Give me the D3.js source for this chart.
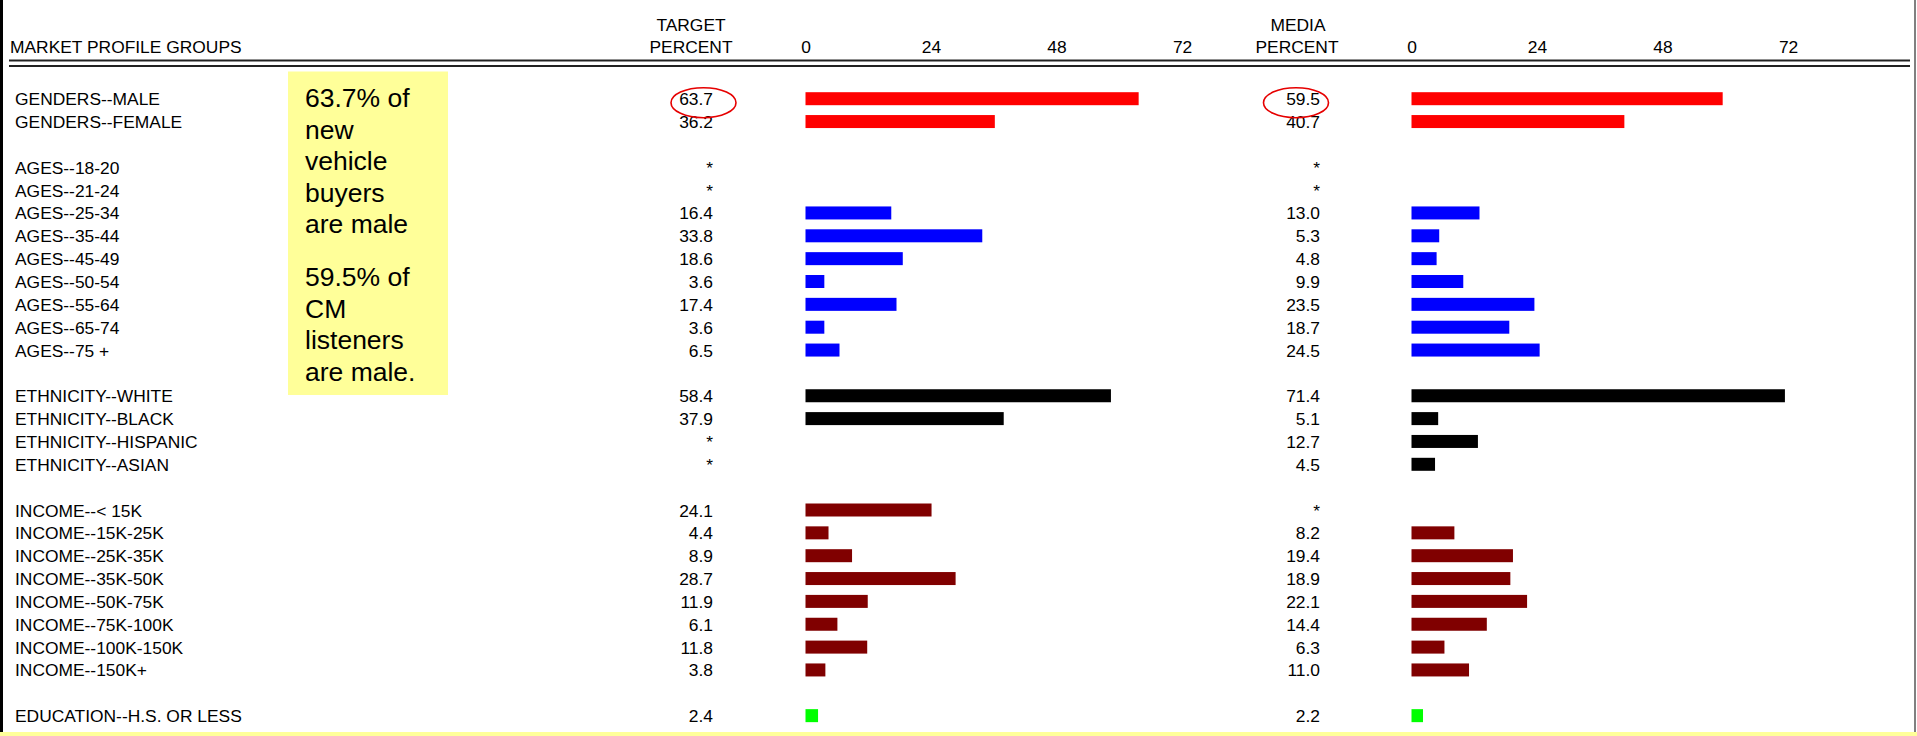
<!DOCTYPE html>
<html>
<head>
<meta charset="utf-8">
<script src="https://cdn.jsdelivr.net/npm/d3@7"></script>
<style>
  html, body { margin: 0; padding: 0; background: #fff; overflow: hidden; }
  svg { display: block; }
  text { font-family: "Liberation Sans", Arial, sans-serif; fill: #000; }
</style>
</head>
<body>
<svg id="chart" width="1917" height="736"></svg>
<script>
// ---- data ----
const groups = ["GENDERS", "AGES", "ETHNICITY", "INCOME", "EDUCATION"];
const groupColors = ["#ff0000", "#0000ff", "#000000", "#800000", "#00ff00"];
const categories = [
  "GENDERS--MALE", "GENDERS--FEMALE",
  "AGES--18-20", "AGES--21-24", "AGES--25-34", "AGES--35-44", "AGES--45-49",
  "AGES--50-54", "AGES--55-64", "AGES--65-74", "AGES--75 +",
  "ETHNICITY--WHITE", "ETHNICITY--BLACK", "ETHNICITY--HISPANIC", "ETHNICITY--ASIAN",
  "INCOME--< 15K", "INCOME--15K-25K", "INCOME--25K-35K", "INCOME--35K-50K",
  "INCOME--50K-75K", "INCOME--75K-100K", "INCOME--100K-150K", "INCOME--150K+",
  "EDUCATION--H.S. OR LESS", "EDUCATION--H.S. GRADUATE"
];
const targetPercent = [
  63.7, 36.2,
  null, null, 16.4, 33.8, 18.6, 3.6, 17.4, 3.6, 6.5,
  58.4, 37.9, null, null,
  24.1, 4.4, 8.9, 28.7, 11.9, 6.1, 11.8, 3.8,
  2.4, 38.6
];
const mediaPercent = [
  59.5, 40.7,
  null, null, 13.0, 5.3, 4.8, 9.9, 23.5, 18.7, 24.5,
  71.4, 5.1, 12.7, 4.5,
  null, 8.2, 19.4, 18.9, 22.1, 14.4, 6.3, 11.0,
  2.2, 28.1
];
const tickValues = [0, 24, 48, 72];
const headerLabels = ["MARKET PROFILE GROUPS", "TARGET", "PERCENT", "MEDIA", "PERCENT"];
const noteLines1 = ["63.7% of", "new", "vehicle", "buyers", "are male"];
const noteLines2 = ["59.5% of", "CM", "listeners", "are male."];
const circled = [{col: "target", row: 0}, {col: "media", row: 0}];

// ---- layout ----
const W = 1917, H = 736;
const svg = d3.select("#chart");
const FS = 17.4;
const pitch = 22.85;
const row0 = 98.7;
const barH = 13;

// slot index with a blank row between groups
let slot = -1, prevG = null;
const rows = categories.map((c, i) => {
  const g = c.split("--")[0];
  if (prevG !== null && g !== prevG) slot += 1;
  slot += 1; prevG = g;
  return { label: c, group: g, color: groupColors[groups.indexOf(g)],
           target: targetPercent[i], media: mediaPercent[i], slot };
});
const y = d3.scaleLinear().domain([0, 1]).range([row0, row0 + pitch]);

const pxPerUnit = 5.23;
const xT = d3.scaleLinear().domain([0, 72]).range([805.5, 805.5 + 72 * pxPerUnit]);
const xM = d3.scaleLinear().domain([0, 72]).range([1411.5, 1411.5 + 72 * pxPerUnit]);

// clip region (content cut at the bottom band)
svg.append("defs").append("clipPath").attr("id", "clip")
  .append("rect").attr("x", 0).attr("y", 0).attr("width", W).attr("height", 732);

const g = svg.append("g").attr("clip-path", "url(#clip)");

// header
g.append("text").attr("x", 10).attr("y", 53).attr("font-size", FS).text(headerLabels[0]);
g.append("text").attr("x", 691).attr("y", 31).attr("font-size", FS).attr("text-anchor", "middle").text(headerLabels[1]);
g.append("text").attr("x", 691).attr("y", 53).attr("font-size", FS).attr("text-anchor", "middle").text(headerLabels[2]);
g.append("text").attr("x", 1298).attr("y", 31).attr("font-size", FS).attr("text-anchor", "middle").text(headerLabels[3]);
g.append("text").attr("x", 1297).attr("y", 53).attr("font-size", FS).attr("text-anchor", "middle").text(headerLabels[4]);

// axes (tick labels only)
[xT, xM].forEach(sc => {
  const ax = g.append("g").attr("transform", "translate(0,53)")
    .call(d3.axisTop(sc).tickValues(tickValues).tickSize(0).tickPadding(0).tickFormat(d3.format("d")));
  ax.select(".domain").remove();
  ax.selectAll("text").attr("font-size", FS).attr("font-family", "Liberation Sans, Arial, sans-serif")
    .attr("fill", "#000").attr("dy", "0");
});

// double rule
[60.5, 66].forEach(yy => {
  g.append("line").attr("x1", 9).attr("x2", 1910).attr("y1", yy).attr("y2", yy)
    .attr("stroke", "#222").attr("stroke-width", 2);
});

// row labels
g.selectAll("text.lab").data(rows).enter().append("text").attr("class", "lab")
  .attr("x", 15).attr("y", d => y(d.slot) + 6.5).attr("font-size", FS).text(d => d.label);

// values
const fmt = v => v == null ? "*" : v.toFixed(1);
g.selectAll("text.tv").data(rows).enter().append("text").attr("class", "tv")
  .attr("x", 713).attr("y", d => y(d.slot) + 6.5).attr("font-size", FS).attr("text-anchor", "end")
  .text(d => fmt(d.target));
g.selectAll("text.mv").data(rows).enter().append("text").attr("class", "mv")
  .attr("x", 1320).attr("y", d => y(d.slot) + 6.5).attr("font-size", FS).attr("text-anchor", "end")
  .text(d => fmt(d.media));

// bars
g.selectAll("rect.tb").data(rows.filter(d => d.target != null)).enter().append("rect").attr("class", "tb")
  .attr("x", xT(0)).attr("y", d => y(d.slot) - barH / 2)
  .attr("width", d => xT(d.target) - xT(0)).attr("height", barH).attr("fill", d => d.color);
g.selectAll("rect.mb").data(rows.filter(d => d.media != null)).enter().append("rect").attr("class", "mb")
  .attr("x", xM(0)).attr("y", d => y(d.slot) - barH / 2)
  .attr("width", d => xM(d.media) - xM(0)).attr("height", barH).attr("fill", d => d.color);

// red ellipses around circled values
circled.forEach(c => {
  const r = rows[c.row];
  const cx = c.col === "target" ? 703.5 : 1296;
  g.append("ellipse").attr("cx", cx).attr("cy", y(r.slot) + 4)
    .attr("rx", 32.5).attr("ry", 15).attr("fill", "none")
    .attr("stroke", "#e60000").attr("stroke-width", 1.6);
});

// yellow note box
const note = g.append("g");
note.append("rect").attr("x", 288).attr("y", 71.5).attr("width", 160).attr("height", 323.5).attr("fill", "#ffff99");
const NF = 26.5, LH = 31.5;
noteLines1.forEach((t, i) => {
  note.append("text").attr("x", 305).attr("y", 107 + i * LH).attr("font-size", NF).text(t);
});
noteLines2.forEach((t, i) => {
  note.append("text").attr("x", 305).attr("y", 286 + i * LH).attr("font-size", NF).text(t);
});

// frame
svg.append("rect").attr("x", 0).attr("y", 0).attr("width", 3).attr("height", 732).attr("fill", "#000");
svg.append("rect").attr("x", 1914).attr("y", 0).attr("width", 2).attr("height", 732).attr("fill", "#808080");
svg.append("rect").attr("x", 0).attr("y", 732).attr("width", W).attr("height", 4).attr("fill", "#ffff99");
</script>
</body>
</html>
